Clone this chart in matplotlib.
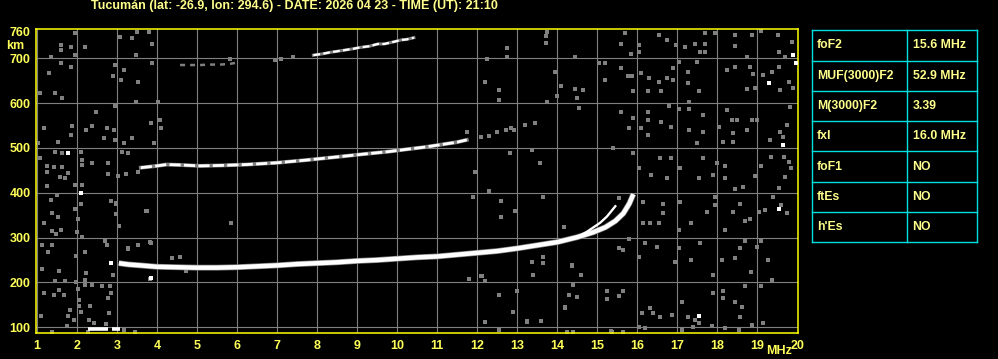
import numpy as np
import matplotlib
matplotlib.use('Agg')
import matplotlib.pyplot as plt

# Ionogram header
title = 'Tucumán (lat: -26.9, lon: 294.6) - DATE: 2026 04 23 - TIME (UT): 21:10'

# Scaled parameters shown in the side table
param_names = ['foF2', 'MUF(3000)F2', 'M(3000)F2', 'fxI', 'foF1', 'ftEs', "h'Es"]
param_values = ['15.6 MHz', '52.9 MHz', '3.39', '16.0 MHz', 'NO', 'NO', 'NO']

# Axis ticks
freq_ticks = list(range(1, 21))
height_ticks = [100, 200, 300, 400, 500, 600, 700, 760]

# First hop F trace (MHz, km), outer branch up to fxI
f1_freq = [3.05, 3.3, 3.6, 4.0, 4.5, 5.0, 5.5, 6.0, 6.5, 7.0, 7.5, 8.0, 8.5, 9.0, 9.5,
           10.0, 10.5, 11.0, 11.5, 12.0, 12.5, 13.0, 13.5, 14.0, 14.5, 14.9, 15.2,
           15.45, 15.65, 15.8, 15.9]
f1_height = [243, 240, 238, 235, 234, 233, 233, 234, 236, 238, 241, 243, 245, 248, 250,
             253, 256, 258, 262, 266, 270, 276, 283, 290, 301, 312, 323,
             337, 354, 376, 397]

# inner branch ending near foF2
f1b_freq = [14.5, 14.74, 15.07, 15.24, 15.45]
f1b_height = [301, 313, 333, 347, 370]

# second hop
f2_freq = [3.6, 4.0, 4.24, 4.6, 5.07, 5.6, 6.24, 7.0, 7.74, 8.5, 9.24, 9.8, 10.24,
           10.7, 11.07, 11.5, 11.74]
f2_height = [456, 460, 463, 462, 460, 461, 463, 467, 473, 480, 487, 492, 497,
             502, 507, 513, 518]

# third hop
f3_freq = [7.91, 8.14, 8.31, 8.89, 9.06, 9.31, 9.52, 9.68, 9.93, 10.1, 10.23, 10.42]
f3_height = [707, 710, 713, 721, 724, 727, 732, 732, 737, 741, 742, 746]

# faint echo near 685 km
f_faint_freq = [4.58, 4.96, 5.1, 5.3, 5.5, 5.6, 5.85, 5.98]
f_faint_height = [685, 685, 685, 686, 686, 686, 688, 690]

# low echo near 100 km
low_freq = [[2.28, 2.78], [2.88, 3.08]]
low_height = [96, 96]

# scattered interference points (MHz, km)
noise_pts = [
    (1.96, 756), (1.6, 730), (1.6, 718), (1.85, 726), (2.21, 726), (1.35, 702), (1.96, 707),
    (1.6, 689), (1.85, 681), (1.31, 668), (1.09, 622), (1.46, 622), (1.64, 612), (2.95, 684),
    (2.91, 661), (3.19, 675), (3.1, 652), (3.54, 648), (3.08, 748), (3.39, 745), (3.5, 759),
    (3.81, 759), (3.89, 733), (3.89, 689), (3.49, 707), (2.95, 594), (3.49, 603), (4.04, 603),
    (2.49, 581), (1.18, 544), (1.53, 514), (1.85, 529), (1.89, 549), (2.23, 540), (2.39, 549),
    (2.75, 544), (2.94, 540), (2.95, 518), (2.69, 523), (3.18, 512), (3.39, 523), (3.85, 555),
    (4.08, 562), (4.1, 545), (3.93, 510), (1.04, 510), (1.08, 477), (1.45, 492), (1.64, 488),
    (2.1, 492), (2.14, 473), (2.14, 462), (2.39, 466), (2.79, 466), (2.79, 442), (3.14, 491),
    (3.29, 489), (3.03, 438), (3.24, 442), (3.54, 447), (1.25, 460), (1.25, 447), (1.43, 458),
    (1.64, 457), (1.58, 436), (1.7, 434), (1.79, 445), (1.95, 417), (2.14, 417), (1.25, 415),
    (1.35, 384), (1.5, 396), (2.1, 376), (1.95, 363), (1.37, 356), (1.52, 347), (2.04, 341),
    (2.85, 382), (2.99, 375), (2.99, 352), (3.06, 326), (3.75, 359), (1.18, 333), (1.39, 315),
    (1.6, 316), (1.49, 308), (2.0, 312), (2.14, 301), (1.14, 284), (1.27, 267), (1.39, 284),
    (2.21, 269), (1.99, 259), (2.7, 293), (2.75, 284), (3.29, 274), (3.54, 284), (3.85, 289),
    (1.56, 226), (1.14, 229), (2.24, 222), (2.91, 217), (2.21, 205), (1.45, 204), (1.71, 204),
    (1.98, 202), (2.21, 194), (2.04, 185), (2.39, 194), (2.64, 191), (2.84, 191), (2.85, 177),
    (2.79, 165), (1.19, 176), (1.43, 172), (1.56, 183), (1.68, 172), (2.06, 161), (2.06, 147),
    (2.33, 147), (2.1, 134), (1.83, 139), (1.1, 126), (1.77, 125), (2.81, 131), (1.92, 116),
    (2.31, 116), (2.43, 110), (2.74, 107), (1.75, 103), (1.39, 90), (2.28, 89), (3.46, 90),
    (3.17, 94),
    (2.99, 377), (3.74, 360), (5.84, 333), (3.28, 276), (3.53, 284), (3.84, 290), (4.39, 255),
    (4.59, 257), (3.83, 208), (4.74, 226), (5.83, 698), (6.96, 696), (7.1, 698), (7.41, 704),
    (11.89, 391), (12.3, 404), (12.6, 382), (12.6, 347), (12.95, 360), (13.64, 391),
    (14.16, 324), (13.64, 256), (13.37, 246), (14.37, 237), (12.12, 214), (15.53, 276),
    (11.95, 447), (12.81, 488), (13.58, 466), (13.37, 495), (11.74, 536), (12.49, 536),
    (12.91, 540), (13.2, 551), (12.1, 524), (12.29, 527), (12.71, 540), (12.85, 544),
    (13.19, 551), (13.44, 556),
    (12.89, 135), (13.24, 113), (13.59, 115), (14.2, 145), (14.24, 89), (14.39, 89),
    (15.33, 92), (15.65, 89), (12.24, 698), (12.74, 724), (12.74, 704), (13.71, 750),
    (13.71, 735), (13.75, 759), (14.45, 704), (15.04, 689), (12.2, 648), (12.54, 629),
    (12.54, 607), (13.95, 670), (14.1, 638), (14.45, 631), (14.64, 629), (14.49, 612),
    (14.0, 616), (13.75, 603), (14.54, 590), (11.79, 208), (12.1, 214), (12.2, 203),
    (13.64, 243), (14.38, 238), (14.6, 217), (13.39, 217), (14.39, 195), (12.54, 173),
    (12.99, 181), (14.29, 173), (14.49, 168), (14.2, 144), (12.2, 112), (13.24, 112),
    (13.6, 114), (12.54, 95), (14.25, 89),
    (15.69, 756), (15.59, 733), (15.84, 710), (16.04, 730), (16.04, 715), (16.53, 752),
    (16.75, 741), (16.96, 730), (17.19, 726), (17.44, 733), (17.57, 715), (17.69, 756),
    (17.69, 733), (17.69, 713), (17.94, 757), (18.44, 752), (18.44, 727), (18.73, 702),
    (18.86, 752), (19.09, 761), (19.51, 752), (19.53, 715), (19.86, 737), (15.19, 652),
    (15.19, 689), (15.59, 678), (15.76, 661), (15.86, 661), (16.09, 668), (16.28, 655),
    (16.53, 648), (16.75, 655), (16.9, 652), (17.03, 692), (17.26, 670), (17.26, 644),
    (17.49, 692), (17.53, 626), (18.23, 674), (18.44, 681), (18.73, 631), (18.82, 681),
    (18.9, 666), (18.94, 633), (19.15, 663), (19.36, 670), (19.53, 681), (19.57, 629),
    (19.79, 648), (19.9, 633), (19.69, 704), (15.9, 626), (16.26, 626), (16.59, 626),
    (16.88, 678), (17.29, 603), (15.59, 581), (15.9, 566), (15.78, 544), (16.09, 545),
    (16.26, 581), (16.26, 562), (16.26, 529), (16.59, 559), (16.79, 594), (16.84, 547),
    (17.03, 588), (17.28, 588), (17.29, 540), (17.5, 512), (17.65, 573), (17.65, 536),
    (18.03, 547), (18.15, 514), (18.23, 585), (18.36, 562), (18.4, 533), (18.4, 514),
    (18.48, 562), (18.73, 540), (18.86, 562), (18.98, 562), (19.32, 518), (19.57, 536),
    (19.73, 551), (19.82, 592), (19.65, 525), (19.67, 480), (19.78, 469), (19.84, 456),
    (15.4, 499), (15.9, 488), (16.03, 455), (16.34, 440), (16.57, 477), (16.73, 432),
    (16.84, 477), (17.07, 455), (17.53, 432), (17.65, 477), (17.9, 440), (17.98, 466),
    (18.19, 460), (18.19, 432), (18.44, 408), (18.65, 414), (18.94, 437), (19.09, 460),
    (19.34, 480), (19.53, 410), (19.69, 436), (15.54, 388), (16.15, 380), (16.15, 333),
    (16.32, 333), (16.53, 333), (16.65, 376), (16.65, 354), (17.07, 380), (17.03, 318),
    (17.34, 333), (17.73, 358), (17.94, 391), (17.94, 373), (18.19, 318), (18.4, 358),
    (18.57, 376), (18.69, 336), (18.82, 341), (19.03, 358), (19.19, 362), (19.4, 391),
    (19.59, 373), (19.73, 354), (15.8, 296), (15.65, 272), (16.04, 257), (16.19, 289),
    (16.48, 280), (16.94, 246), (17.04, 276), (17.34, 250), (17.57, 287), (17.9, 217),
    (18.11, 250), (18.44, 254), (18.57, 276), (18.69, 292), (18.84, 224), (18.98, 280),
    (19.09, 292), (19.26, 250), (19.36, 205), (15.23, 180), (15.23, 162), (15.53, 170),
    (15.65, 181), (16.11, 131), (16.32, 142), (16.4, 131), (16.57, 124), (16.86, 127),
    (17.11, 157), (17.26, 124), (17.44, 116), (17.9, 176), (18.15, 180), (18.15, 165),
    (18.44, 157), (18.62, 146), (18.57, 124), (18.69, 191), (18.86, 105), (19.09, 191),
    (19.13, 109), (16.03, 101), (16.19, 98), (15.36, 90), (15.65, 90), (17.11, 94),
    (17.4, 101), (17.53, 109), (17.86, 103), (18.19, 98), (18.53, 94),
]
bright_pts = [(1.79, 488), (2.1, 400), (2.85, 244), (3.85, 209), (19.96, 689),
              (19.29, 644), (19.65, 507), (19.54, 364), (17.53, 125), (19.9, 707)]

plt.rcParams['font.family'] = ['Liberation Sans', 'DejaVu Sans']
plt.rcParams['font.weight'] = 'bold'

yellow = '#ffff5a'
pale = '#ffff8c'
grey = '#808080'
cyan = '#00e0e0'

fig = plt.figure(figsize=(9.98, 3.59), dpi=100, facecolor='black')
ax = fig.add_axes([0.0356, 0.0716, 0.7635, 0.8468], facecolor='black')

# grid
for f in freq_ticks[:-1]:
    ax.axvline(f, color=grey, lw=0.8, zorder=1)
for h in height_ticks[:-1]:
    ax.axhline(h, color=grey, lw=0.8, zorder=1)

# noise, drawn as crisp pixel blocks
noise = np.array(noise_pts)
ax.plot(noise[:, 0], noise[:, 1], ls='none', marker='s', ms=2.2, mew=0, color=grey,
        antialiased=False, zorder=2)
bright = np.array(bright_pts)
ax.plot(bright[:, 0], bright[:, 1], ls='none', marker='s', ms=2.2, mew=0, color='white',
        antialiased=False, zorder=3)

# echo traces
ax.plot(f1_freq, f1_height, color=grey, lw=4.2, zorder=3, solid_capstyle='butt')
ax.plot(f1_freq, f1_height, color='white', lw=3.2, zorder=4, solid_capstyle='butt')
ax.plot(f1b_freq, f1b_height, color='white', lw=1.7, zorder=4)
ax.plot(f2_freq, f2_height, color=grey, lw=2.8, zorder=3)
ax.plot(f2_freq, f2_height, color='white', lw=2.0, zorder=4, dashes=(4, 1.2))
ax.plot(f3_freq, f3_height, color=grey, lw=2.2, zorder=3)
ax.plot(f3_freq, f3_height, color='white', lw=1.6, zorder=4, dashes=(3, 1.5))
ax.plot(f_faint_freq, f_faint_height, color=grey, lw=1.8, zorder=3, dashes=(2, 2))
for fr, h in zip(low_freq, low_height):
    ax.plot(fr, [h, h], color='white', lw=2.6, zorder=4, solid_capstyle='butt')

ax.set_xlim(0.97, 20.0)
ax.set_ylim(86.6, 764.7)
ax.set_xticks(freq_ticks)
ax.set_yticks(height_ticks)
ax.tick_params(length=0, colors=yellow, labelsize=9)
ax.tick_params(axis='x', pad=5)
ax.tick_params(axis='y', pad=3.5)
for lbl in ax.get_xticklabels() + ax.get_yticklabels():
    lbl.set_fontweight('bold')
for sp in ax.spines.values():
    sp.set_color('#ffff00')
    sp.set_linewidth(1.1)

fig.text(0.0912, 0.982, title, color=pale, fontsize=9.0, fontweight='bold',
         ha='left', va='center')
fig.text(0.006, 0.873, 'km', color=yellow, fontsize=9, fontweight='bold',
         ha='left', va='center')
fig.text(0.781, 0.022, 'MHz', color=yellow, fontsize=9, fontweight='bold',
         ha='center', va='center')

# parameter table
tax = fig.add_axes([0.8139, 0.3251, 0.1653, 0.5905])
tax.set_xlim(0, 1)
tax.set_ylim(0, len(param_names))
tax.axis('off')
n = len(param_names)
for i in range(n + 1):
    tax.plot([0, 1], [i, i], color=cyan, lw=1.0, clip_on=False)
for x in (0, 0.576, 1):
    tax.plot([x, x], [0, n], color=cyan, lw=1.0, clip_on=False)
for i, (name, val) in enumerate(zip(param_names, param_values)):
    y = n - i - 0.5
    tax.text(0.03, y, name, color=pale, fontsize=8.8, fontweight='bold', va='center', ha='left')
    tax.text(0.608, y, val, color=pale, fontsize=8.8, fontweight='bold', va='center', ha='left')

fig.savefig('out.png', dpi=100, facecolor='black')
